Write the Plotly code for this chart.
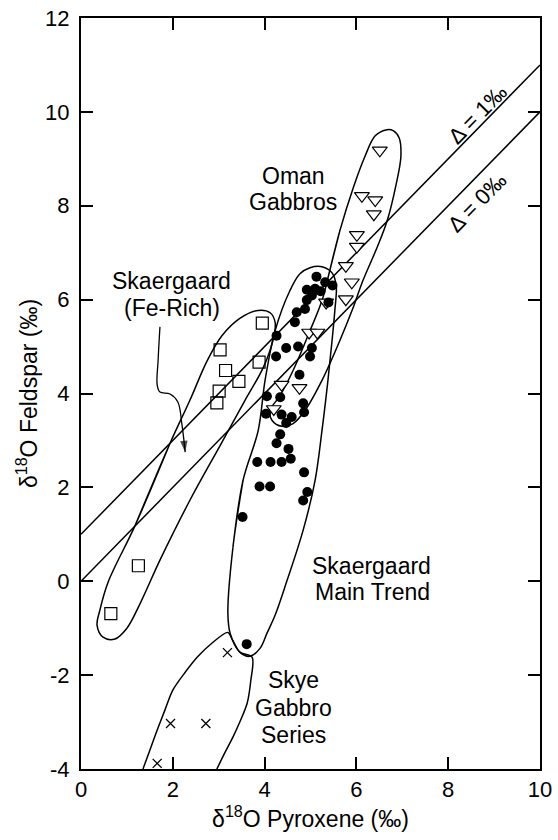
import plotly.graph_objects as go

# ---- measured isotope data (delta-18O, per mil) ----
skaer_main_px = [5.13, 5.32, 5.48, 4.92, 5.10, 5.22, 5.03, 4.92, 5.39, 4.70,
                 4.88, 4.66, 4.26, 4.47, 4.73, 5.03, 4.25, 4.99, 4.76, 4.05,
                 4.34, 4.84, 4.03, 4.37, 4.59, 4.47, 4.86, 4.34, 4.26, 4.52,
                 3.84, 4.13, 4.37, 4.57, 4.86, 3.89, 4.12, 4.93, 4.84, 3.52,
                 3.61]
skaer_main_fs = [6.49, 6.37, 6.30, 6.21, 6.23, 6.18, 6.09, 5.99, 5.94, 5.73,
                 5.80, 5.52, 5.23, 4.97, 5.00, 4.97, 4.79, 4.79, 4.40, 3.94,
                 3.92, 3.79, 3.57, 3.55, 3.50, 3.37, 3.60, 3.13, 2.94, 2.82,
                 2.54, 2.54, 2.54, 2.61, 2.32, 2.02, 2.02, 1.90, 1.72, 1.37,
                 -1.34]

oman_px = [6.51, 6.12, 6.41, 6.38, 6.01, 6.01, 5.77, 5.90, 5.77, 5.34,
           4.97, 5.15, 4.37, 4.76, 4.20]
oman_fs = [9.18, 8.21, 8.12, 7.82, 7.38, 7.13, 6.72, 6.37, 6.01, 5.94,
           5.30, 5.30, 4.19, 4.12, 3.67]

ferich_px = [3.95, 3.03, 3.15, 3.44, 3.88, 3.01, 2.96, 1.25, 0.65]
ferich_fs = [5.50, 4.93, 4.49, 4.26, 4.67, 4.05, 3.80, 0.33, -0.69]

skye_px = [3.19, 1.95, 2.72, 1.66]
skye_fs = [-1.52, -3.03, -3.03, -3.88]

# fractionation reference lines: Delta = feldspar - pyroxene
delta_values = [1, 0]
line_x = [0, 10]

# axis ticks
x_ticks = [0, 2, 4, 6, 8, 10]
y_ticks = [-4, -2, 0, 2, 4, 6, 8, 10, 12]
x_tick_text = ["0", "2", "4", "6", "8", "10"]
y_tick_text = ["-4", "-2", "0", "2", "4", "6", "8", "10", "12"]

# ---- hand-drawn field boundaries (data coordinates) ----
main_field_x = [3.31, 3.53, 3.86, 4.01, 4.23, 4.55, 4.77, 4.99, 5.25, 5.47,
                5.56, 5.53, 5.47, 5.38, 5.25, 5.10, 4.84, 4.49, 4.23, 4.05,
                3.90, 3.68, 3.46, 3.25, 3.20, 3.31, 3.53]
main_field_y = [0.72, 2.15, 3.21, 4.28, 5.34, 6.19, 6.55, 6.68, 6.70, 6.57,
                6.30, 5.77, 5.13, 4.28, 3.21, 2.15, 1.09, 0.02, -0.72, -1.11,
                -1.43, -1.60, -1.51, -1.11, -0.68, 0.72, 2.15]

oman_field_x = [5.64, 5.42, 5.25, 4.99, 4.62, 4.34, 4.12, 4.16, 4.38, 4.62,
                4.88, 5.25, 5.64, 5.93, 6.14, 6.45, 6.67, 6.86, 6.97, 6.93,
                6.80, 6.67, 6.41, 6.19, 5.93, 5.64, 5.42]
oman_field_y = [7.47, 6.62, 5.98, 5.34, 4.49, 3.96, 3.64, 3.43, 3.30, 3.36,
                3.64, 4.28, 5.13, 5.83, 6.40, 7.11, 7.68, 8.43, 9.06, 9.45,
                9.60, 9.62, 9.49, 9.06, 8.38, 7.47, 6.62]

ferich_field_x = [1.18, 1.94, 2.37, 2.75, 3.07, 3.46, 3.86, 4.12, 4.23, 4.18,
                  3.97, 3.57, 3.03, 2.37, 1.72, 1.29, 1.00, 0.74, 0.48, 0.35,
                  0.41, 0.59, 1.18, 1.94]
ferich_field_y = [1.19, 2.94, 3.85, 4.70, 5.23, 5.60, 5.77, 5.72, 5.51, 5.13,
                  4.55, 3.85, 2.89, 1.72, 0.45, -0.47, -1.00, -1.23, -1.19, -0.94,
                  -0.62, -0.02, 1.19, 2.94]

skye_field_x = [1.35, 1.50, 1.66, 1.83, 2.00, 2.27, 2.53, 2.85, 3.20, 3.30,
                3.46, 3.73, 3.70, 3.62, 3.46, 3.31, 3.14, 2.96]
skye_field_y = [-4.00, -3.60, -3.17, -2.74, -2.32, -1.94, -1.62, -1.32, -1.09, -1.25,
                -1.51, -1.62, -2.11, -2.60, -3.00, -3.32, -3.64, -4.00]

# curved pointer from the Fe-rich label into its field
pointer_x = [1.72, 1.68, 1.66, 1.72, 1.94, 2.11, 2.20, 2.27]
pointer_y = [5.42, 4.71, 4.18, 4.03, 3.99, 3.82, 3.33, 2.75]

FONT = "Liberation Sans, Arial, Helvetica, sans-serif"
INK = "black"

fig = go.Figure()

# field outlines
for fx, fy in [(main_field_x, main_field_y), (oman_field_x, oman_field_y),
               (ferich_field_x, ferich_field_y)]:
    fig.add_trace(go.Scatter(x=fx, y=fy, mode="lines",
                             line=dict(color=INK, width=1.5, shape="spline", smoothing=1.0),
                             hoverinfo="skip", showlegend=False))
fig.add_trace(go.Scatter(x=skye_field_x, y=skye_field_y, mode="lines",
                         line=dict(color=INK, width=1.5, shape="spline", smoothing=0.8),
                         hoverinfo="skip", showlegend=False))

# Delta reference lines
for d in delta_values:
    fig.add_trace(go.Scatter(x=line_x, y=[v + d for v in line_x], mode="lines",
                             line=dict(color=INK, width=1.5),
                             hoverinfo="skip", showlegend=False))

# pointer with an arrowhead oriented along its last segment
head_sizes = [0] * (len(pointer_x) - 1) + [12]
fig.add_trace(go.Scatter(x=pointer_x, y=pointer_y, mode="lines+markers",
                         line=dict(color=INK, width=1.3, shape="spline"),
                         marker=dict(symbol="arrow", size=head_sizes, color=INK,
                                     angleref="previous", line=dict(width=0)),
                         hoverinfo="skip", showlegend=False))

# data series
fig.add_trace(go.Scatter(x=ferich_px, y=ferich_fs, mode="markers", name="Skaergaard (Fe-Rich)",
                         marker=dict(symbol="square-open", size=12, color=INK, line=dict(width=1.2)),
                         showlegend=False))
fig.add_trace(go.Scatter(x=oman_px, y=oman_fs, mode="markers", name="Oman Gabbros",
                         marker=dict(symbol="triangle-down", size=13, color="white",
                                     line=dict(width=1.2, color=INK)),
                         showlegend=False))
fig.add_trace(go.Scatter(x=skaer_main_px, y=skaer_main_fs, mode="markers",
                         name="Skaergaard Main Trend",
                         marker=dict(symbol="circle", size=10, color=INK, line=dict(width=0)),
                         showlegend=False))
fig.add_trace(go.Scatter(x=skye_px, y=skye_fs, mode="markers", name="Skye Gabbro Series",
                         marker=dict(symbol="x-thin-open", size=9, color=INK, line=dict(width=1.3)),
                         showlegend=False))


def label(text, x, y, size=23, angle=0):
    fig.add_annotation(x=x, y=y, xref="x", yref="y", text=text, showarrow=False,
                       font=dict(family=FONT, size=size, color=INK), textangle=angle,
                       xanchor="center", yanchor="middle")


label("Oman", 4.62, 8.63)
label("Gabbros", 4.62, 8.08)
label("Skaergaard", 1.98, 6.40)
label("(Fe-Rich)", 1.98, 5.82)
label("Skaergaard", 6.32, 0.33)
label("Main Trend", 6.34, -0.23)
label("Skye", 4.63, -2.10)
label("Gabbro", 4.64, -2.70)
label("Series", 4.64, -3.27)
label("Δ = 1‰", 8.63, 9.95, size=22, angle=-45.6)
label("Δ = 0‰", 8.63, 8.06, size=22, angle=-45.6)

axis_common = dict(showgrid=False, zeroline=False, showline=True, linecolor=INK,
                   linewidth=2, mirror="ticks", ticks="inside", ticklen=12,
                   tickwidth=1.5, tickcolor=INK, automargin=False,
                   tickfont=dict(family=FONT, size=22, color=INK))

fig.update_layout(
    width=558, height=840,
    margin=dict(l=81, r=18, t=18, b=71, autoexpand=False),
    paper_bgcolor="white", plot_bgcolor="white",
    xaxis=dict(range=[0, 10], tickmode="array", tickvals=x_ticks, ticktext=x_tick_text,
               ticklabelstandoff=0,
               title=dict(text="δ<sup>18</sup>O Pyroxene (‰)", standoff=9,
                          font=dict(family=FONT, size=23, color=INK)),
               **axis_common),
    yaxis=dict(range=[-4, 12], tickmode="array", tickvals=y_ticks, ticktext=y_tick_text,
               ticklabelstandoff=5,
               title=dict(text="δ<sup>18</sup>O Feldspar (‰)", standoff=1,
                          font=dict(family=FONT, size=23, color=INK)),
               **axis_common),
)

fig.write_html("out.html")
